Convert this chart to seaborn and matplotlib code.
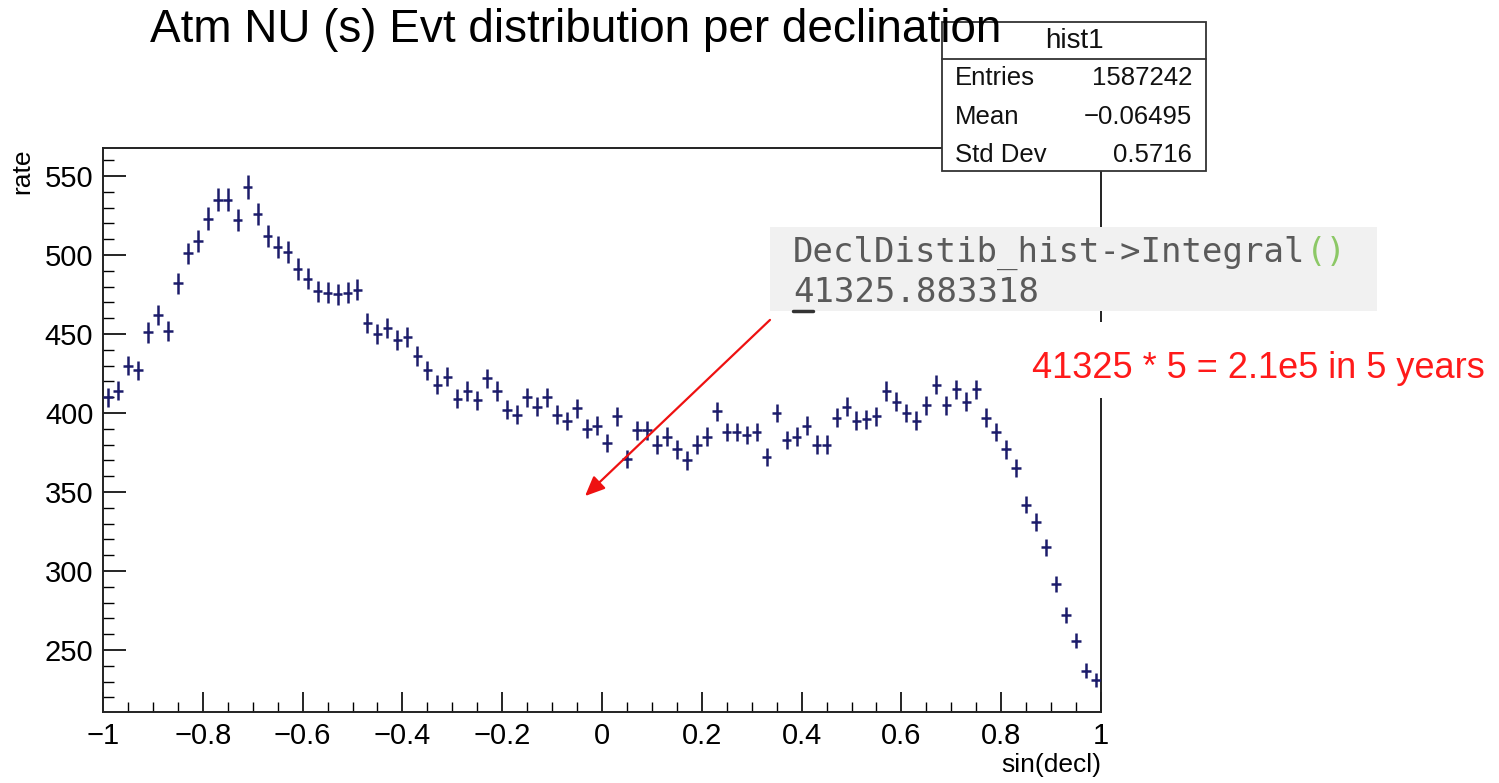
import numpy as np
import pandas as pd
import matplotlib
matplotlib.use("Agg")
import matplotlib.pyplot as plt
from matplotlib.patches import Rectangle, FancyArrowPatch
from matplotlib.lines import Line2D
from matplotlib.ticker import MultipleLocator
import seaborn as sns

# ---- histogram contents: 100 bins of sin(decl) in [-1, 1] ----
bin_edges_lo = -1.0
bin_edges_hi = 1.0
n_bins = 100

rate = [
    410, 414, 430, 427, 451, 462, 452, 482, 501, 509,
    523, 535, 535, 522, 543, 526, 512, 505, 502, 491,
    485, 477, 476, 475, 476, 478, 457, 450, 454, 446,
    448, 436, 427, 418, 423, 409, 414, 408, 422, 414,
    402, 399, 410, 404, 410, 399, 395, 403, 390, 392,
    381, 398, 371, 389, 389, 380, 385, 377, 370, 380,
    385, 401, 388, 388, 386, 388, 372, 400, 383, 385,
    392, 380, 380, 397, 404, 395, 396, 398, 414, 407,
    400, 395, 405, 418, 405, 415, 407, 415, 397, 388,
    377, 365, 342, 331, 315, 292, 272, 256, 237, 231,
]

rate_err = [
    6.0, 6.0, 6.2, 6.2, 6.4, 6.5, 6.4, 6.7, 6.9, 7.0,
    7.1, 7.3, 7.3, 7.1, 7.4, 7.2, 7.0, 6.9, 6.9, 6.8,
    6.7, 6.6, 6.6, 6.6, 6.6, 6.6, 6.4, 6.4, 6.4, 6.3,
    6.3, 6.2, 6.2, 6.1, 6.1, 6.0, 6.1, 6.0, 6.1, 6.1,
    6.0, 6.0, 6.0, 6.0, 6.0, 6.0, 5.9, 6.0, 5.9, 5.9,
    5.9, 6.0, 5.8, 5.9, 5.9, 5.9, 5.9, 5.8, 5.8, 5.9,
    5.9, 6.0, 5.9, 5.9, 5.9, 5.9, 5.8, 6.0, 5.9, 5.9,
    5.9, 5.9, 5.9, 6.0, 6.0, 6.0, 6.0, 6.0, 6.1, 6.0,
    6.0, 6.0, 6.0, 6.1, 6.0, 6.1, 6.0, 6.1, 6.0, 5.9,
    5.8, 5.7, 5.5, 5.5, 5.3, 5.1, 5.0, 4.8, 4.6, 4.6,
]

x_ticks = [-1, -0.8, -0.6, -0.4, -0.2, 0, 0.2, 0.4, 0.6, 0.8, 1]
x_tick_labels = ["\u22121", "\u22120.8", "\u22120.6", "\u22120.4", "\u22120.2",
                 "0", "0.2", "0.4", "0.6", "0.8", "1"]
y_ticks = [250, 300, 350, 400, 450, 500, 550]

stats_title = "hist1"
stats_rows = [("Entries", "1587242"), ("Mean", "\u22120.06495"), ("Std Dev", "0.5716")]

title = "Atm NU (s) Evt distribution per declination"
code_line = "DeclDistib_hist->Integral"
code_parens = "()"
code_result = "41325.883318"
note = "41325 * 5 = 2.1e5 in 5 years"

# ---- data frame ----
edges = np.linspace(bin_edges_lo, bin_edges_hi, n_bins + 1)
centers = 0.5 * (edges[:-1] + edges[1:])
df = pd.DataFrame({"sin_decl": centers, "rate": rate, "err": rate_err})

# ---- style ----
sns.set_theme(style="ticks")
plt.rcParams["font.family"] = ["Liberation Sans", "DejaVu Sans"]
plt.rcParams["axes.unicode_minus"] = True
for key in ("text.color", "axes.labelcolor", "xtick.color", "ytick.color"):
    plt.rcParams[key] = "black"

W, H = 1499, 783
fig = plt.figure(figsize=(W / 100, H / 100), dpi=100)
fig.patch.set_facecolor("white")


def fx(x):
    return x / W


def fy(y):
    return 1 - y / H


# plot frame in pixel terms
left, right, top, bottom = 103, 1101, 148, 712
ax = fig.add_axes([fx(left), fy(bottom), (right - left) / W, (bottom - top) / H])
ax.set_facecolor("white")

navy = "#1c1c6b"
ax.errorbar(df["sin_decl"], df["rate"], xerr=0.0095, yerr=df["err"],
            fmt="none", ecolor=navy, elinewidth=1.8, capsize=0, zorder=3)
sns.scatterplot(data=df, x="sin_decl", y="rate", ax=ax, s=3, color=navy,
                linewidth=0, zorder=4, legend=False)

ax.set_xlim(-1, 1)
ax.set_ylim(210.8, 567.7)
ax.set_xticks(x_ticks)
ax.set_xticklabels(x_tick_labels)
ax.set_yticks(y_ticks)
ax.xaxis.set_minor_locator(MultipleLocator(0.05))
ax.yaxis.set_minor_locator(MultipleLocator(10))
ax.tick_params(axis="x", which="major", direction="in", length=14.5, width=1.2,
               labelsize=21, pad=7, colors="black", top=False)
ax.tick_params(axis="x", which="minor", direction="in", length=7.5, width=1.0,
               top=False, colors="black")
ax.tick_params(axis="y", which="major", direction="in", length=16.5, width=1.2,
               labelsize=21, pad=7, colors="black", right=False)
ax.tick_params(axis="y", which="minor", direction="in", length=8, width=1.0,
               right=False, colors="black")
for s in ax.spines.values():
    s.set_color("#222222")
    s.set_linewidth(1.4)
ax.set_xlabel("")
ax.set_ylabel("")

# axis titles
fig.text(fx(22), fy(148), "rate", rotation=90, ha="center", va="top",
         fontsize=19, color="black")
fig.text(fx(1101), fy(765), "sin(decl)", ha="right", va="center",
         fontsize=19, color="black")

# statistics box
bx0, by0, bx1, by1 = 942, 22, 1206, 171
fig.patches.append(Rectangle((fx(bx0), fy(by1)), (bx1 - bx0) / W, (by1 - by0) / H,
                             transform=fig.transFigure, facecolor="white",
                             edgecolor="#333333", linewidth=1.3, zorder=5))
fig.lines.append(Line2D([fx(bx0), fx(bx1)], [fy(59), fy(59)],
                        transform=fig.transFigure, color="#333333",
                        linewidth=1.3, zorder=6))
fig.text(fx((bx0 + bx1) / 2), fy(41), stats_title, ha="center", va="center",
         fontsize=20, color="#111111", zorder=7)
for (lab, val), yy in zip(stats_rows, [78, 117, 155]):
    fig.text(fx(955), fy(yy), lab, ha="left", va="center", fontsize=18.5,
             color="#111111", zorder=7)
    fig.text(fx(1192), fy(yy), val, ha="right", va="center", fontsize=18.5,
             color="#111111", zorder=7)

# title
fig.text(fx(150), fy(30), title, ha="left", va="center", fontsize=33,
         color="black", zorder=8)

# pasted console snippet
fig.patches.append(Rectangle((fx(770), fy(311)), (1377 - 770) / W, (311 - 227) / H,
                             transform=fig.transFigure, facecolor="#f1f1f1",
                             edgecolor="none", zorder=5))
mono = ["DejaVu Sans Mono"]
t1 = fig.text(fx(793), fy(253), code_line, ha="left", va="center",
              fontsize=24.5, family=mono, color="#5a5a5a", zorder=7)
fig.canvas.draw()
bb = t1.get_window_extent()
fig.text(bb.x1 / W, fy(253), code_parens, ha="left", va="center",
         fontsize=24.5, family=mono, color="#8cc866", zorder=7)
fig.text(fx(793), fy(292), code_result, ha="left", va="center",
         fontsize=24.5, family=mono, color="#5a5a5a", zorder=7)
fig.lines.append(Line2D([fx(793), fx(813)], [fy(311), fy(311)],
                        transform=fig.transFigure, color="#333333",
                        linewidth=2.5, zorder=7))

# annotation
fig.patches.append(Rectangle((fx(1025), fy(398)), (W - 1025) / W, (398 - 322) / H,
                             transform=fig.transFigure, facecolor="white",
                             edgecolor="none", zorder=5))
fig.text(fx(1032), fy(368), note, ha="left", va="center", fontsize=26,
         color="#ff1a1a", zorder=7)
fig.patches.append(FancyArrowPatch((fx(772), fy(318)), (fx(583), fy(498)),
                                   transform=fig.transFigure,
                                   arrowstyle="-|>,head_length=8,head_width=3.5",
                                   color="#ee1111", linewidth=1.6, zorder=7,
                                   mutation_scale=1.5))

fig.savefig("out.png", dpi=100, facecolor="white")
